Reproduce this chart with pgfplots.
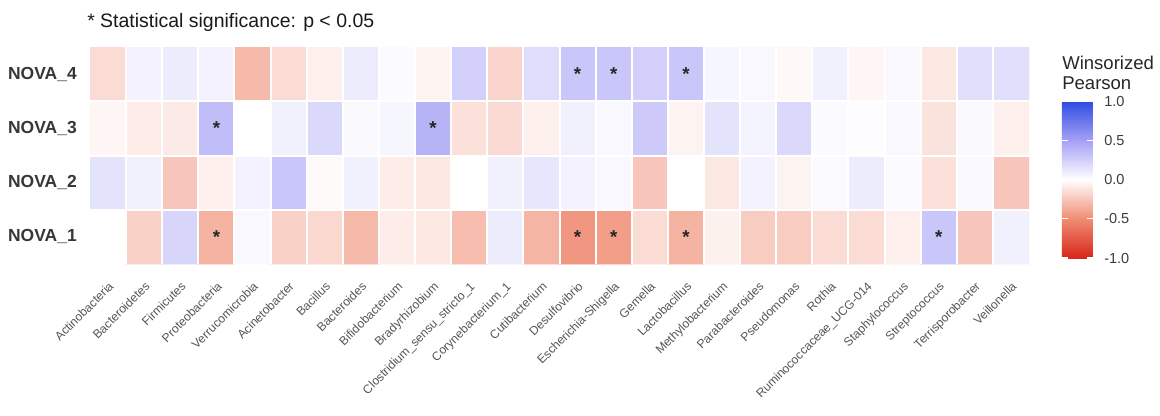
\documentclass[border=0pt]{standalone}
\usepackage{pgfplots}
\pgfplotsset{compat=1.18}
\usepackage{pgfplotstable}
\usepackage{fontspec}
\setmainfont{Liberation Sans}
\definecolor{rowlab}{RGB}{55,55,55}
\definecolor{xlab}{RGB}{85,85,85}
\definecolor{cblab}{RGB}{60,60,60}
\pgfplotstableread{
x y c
1 1 0.00
2 1 -0.20
3 1 0.22
4 1 -0.33
5 1 0.04
6 1 -0.20
7 1 -0.17
8 1 -0.30
9 1 -0.08
10 1 -0.10
11 1 -0.28
12 1 0.10
13 1 -0.32
14 1 -0.45
15 1 -0.42
16 1 -0.15
17 1 -0.33
18 1 -0.06
19 1 -0.22
20 1 -0.22
21 1 -0.15
22 1 -0.15
23 1 -0.07
24 1 0.30
25 1 -0.25
26 1 0.08
1 2 0.15
2 2 0.08
3 2 -0.25
4 2 -0.07
5 2 0.07
6 2 0.30
7 2 -0.02
8 2 0.08
9 2 -0.08
10 2 -0.10
11 2 0.00
12 2 0.08
13 2 0.13
14 2 0.07
15 2 0.04
16 2 -0.25
17 2 0.00
18 2 -0.10
19 2 0.07
20 2 -0.05
21 2 0.02
22 2 0.10
23 2 0.02
24 2 -0.13
25 2 0.04
26 2 -0.25
1 3 -0.04
2 3 -0.08
3 3 -0.09
4 3 0.35
5 3 0.00
6 3 0.08
7 3 0.20
8 3 0.03
9 3 0.05
10 3 0.40
11 3 -0.13
12 3 -0.16
13 3 -0.07
14 3 0.08
15 3 0.04
16 3 0.28
17 3 -0.05
18 3 0.15
19 3 0.06
20 3 0.20
21 3 0.02
22 3 0.01
23 3 0.04
24 3 -0.12
25 3 0.03
26 3 -0.07
1 4 -0.15
2 4 0.07
3 4 0.10
4 4 0.07
5 4 -0.30
6 4 -0.15
7 4 -0.07
8 4 0.10
9 4 0.02
10 4 -0.05
11 4 0.25
12 4 -0.18
13 4 0.18
14 4 0.30
15 4 0.30
16 4 0.25
17 4 0.30
18 4 0.05
19 4 0.04
20 4 -0.03
21 4 0.08
22 4 -0.04
23 4 0.04
24 4 -0.10
25 4 0.17
26 4 0.17
}\heatdata
\begin{document}
\begin{tikzpicture}
\path[use as bounding box] (0,0) rectangle (870pt,311.25pt);
\begin{axis}[
  at={(67.5pt,113.25pt)}, anchor=south west,
  scale only axis, width=704.25pt, height=162.75pt,
  xmin=0.5, xmax=26.5, ymin=0.5, ymax=4.5,
  enlargelimits=false,
  axis line style={draw=none},
  major tick length=0pt,
  tick style={draw=none},
  xtick={1,...,26},
  xticklabels={Actinobacteria,Bacteroidetes,Firmicutes,Proteobacteria,Verrucomicrobia,Acinetobacter,Bacillus,Bacteroides,Bifidobacterium,Bradyrhizobium,Clostridium\_sensu\_stricto\_1,Corynebacterium\_1,Cutibacterium,Desulfovibrio,Escherichia-Shigella,Gemella,Lactobacillus,Methylobacterium,Parabacteroides,Pseudomonas,Rothia,Ruminococcaceae\_UCG-014,Staphylococcus,Streptococcus,Terrisporobacter,Veillonella},
  xticklabel style={rotate=45, anchor=north east, inner sep=0pt, font=\fontsize{9.1}{10}\selectfont, text=xlab},
  xticklabel shift=12.5pt,
  ytick={1,2,3,4},
  yticklabels={NOVA\_1,NOVA\_2,NOVA\_3,NOVA\_4},
  yticklabel style={anchor=east, inner sep=0pt, font=\fontsize{13.1}{14}\selectfont\bfseries, text=rowlab},
  yticklabel shift=9.75pt,
  colormap={wp}{rgb255=(215,40,25) rgb255=(240,140,115) rgb255=(255,255,255) rgb255=(165,160,245) rgb255=(45,75,225)},
  point meta min=-1, point meta max=1,
  colorbar,
  colorbar/width=23.25pt,
  colorbar style={
    at={(parent axis.north east)}, anchor=north west,
    xshift=16.2pt, yshift=-40.5pt,
    scale only axis,
    width=23.25pt, height=117.75pt,
    axis line style={draw=none},
    ytick={-1,-0.5,0,0.5,1},
    yticklabels={-1.0,-0.5,0.0,0.5,1.0},
    yticklabel pos=right,
    ytick pos=both,
    tick align=inside,
    major tick length=4.5pt,
    tick style={draw=white, line width=0.8pt},
    yticklabel style={anchor=west, inner sep=0pt, font=\fontsize{10.9}{12}\selectfont, text=cblab},
    yticklabel shift=8.25pt,
  },
]
\addplot[matrix plot*, mesh/cols=26, point meta=explicit] table[x=x, y=y, meta=c] {\heatdata};
\pgfplotsinvokeforeach{1.5,2.5,...,25.5}{
  \draw[white, line width=1.5pt] (axis cs:#1,0.5) -- (axis cs:#1,4.5);
}
\pgfplotsinvokeforeach{1.5,2.5,3.5}{
  \draw[white, line width=1.5pt] (axis cs:0.5,#1) -- (axis cs:26.5,#1);
}
\addplot[only marks, mark=none, point meta=y, nodes near coords={\textbf{*}}, nodes near coords align={center},
  every node near coord/.style={font=\fontsize{14}{14}\selectfont, text=black!85, inner sep=0pt}]
  coordinates {(14,4) (15,4) (17,4) (4,3) (10,3) (4,1) (14,1) (15,1) (17,1) (24,1)};
\end{axis}
\node[anchor=base west, inner sep=0pt, font=\fontsize{14.6}{16}\selectfont, text=black!90] at (65.25pt,290.25pt) {* Statistical significance: p < 0.05};
\node[anchor=north west, inner sep=0pt, align=left, font=\fontsize{13.9}{14.5}\selectfont, text=black!85] at (796.5pt,269.25pt) {Winsorized\\Pearson};
\end{tikzpicture}
\end{document}
